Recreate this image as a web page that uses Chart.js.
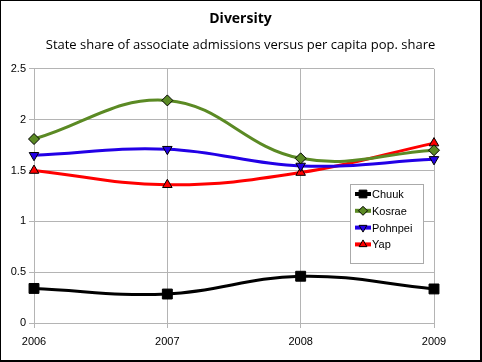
<!DOCTYPE html>
<html>
<head>
<meta charset="utf-8">
<script src="https://cdn.jsdelivr.net/npm/chart.js@4/dist/chart.umd.min.js"></script>
<style>
  body { margin: 0; background: #fff; }
  #wrap { width: 479px; height: 359px; border: 1px solid #000; border-right-width: 2px; border-bottom-width: 2px; }
</style>
</head>
<body>
<div id="wrap"><canvas id="chart" width="479" height="359"></canvas></div>
<script>
// 데이터
const years = ['2006', '2007', '2008', '2009'];
const chuuk = [0.34, 0.285, 0.46, 0.335];
const kosrae = [1.81, 2.19, 1.62, 1.70];
const pohnpei = [1.65, 1.71, 1.545, 1.61];
const yap = [1.50, 1.36, 1.48, 1.77];

// 차트 안쪽 범례 그리기
const boxLegend = {
    id: 'boxLegend',
    afterDraw(chart) {
        const ctx = chart.ctx;
        const x = 349, y = 183, w = 73, h = 79;
        ctx.save();
        ctx.fillStyle = '#fff';
        ctx.fillRect(x, y, w, h);
        ctx.strokeStyle = '#aaa';
        ctx.lineWidth = 1;
        ctx.strokeRect(x + 0.5, y + 0.5, w, h);
        chart.data.datasets.forEach(function(ds, i) {
            const cy = y + 10 + i * 16.8;
            ctx.strokeStyle = ds.borderColor;
            ctx.lineWidth = 4;
            ctx.beginPath();
            ctx.moveTo(x + 5, cy);
            ctx.lineTo(x + 21, cy);
            ctx.stroke();
            ctx.fillStyle = ds.pointBackgroundColor;
            ctx.strokeStyle = '#000';
            ctx.lineWidth = 1;
            Chart.helpers.drawPoint(ctx, {
                pointStyle: ds.pointStyle,
                rotation: ds.pointRotation || 0,
                radius: ds.pointStyle === 'rect' ? 5.5 : 4.5,
                borderWidth: 1
            }, x + 13, cy);
            ctx.fillStyle = '#000';
            ctx.font = '11px "Liberation Sans", Arial, sans-serif';
            ctx.textBaseline = 'middle';
            ctx.fillText(ds.label, x + 22, cy + 1);
        });
        ctx.restore();
    }
};

function series(label, data, color, style, rot) {
    return {
        label: label,
        data: data,
        borderColor: color,
        backgroundColor: color,
        pointBackgroundColor: color,
        pointBorderColor: '#000',
        pointBorderWidth: 1,
        pointStyle: style,
        pointRotation: rot || 0,
        pointRadius: style === 'rect' ? 7 : 5.5,
        borderWidth: 3,
        tension: 0.4,
        fill: false
    };
}

const tickFont = { family: '"Liberation Sans", Arial, sans-serif', size: 11 };

const ctx = document.getElementById('chart').getContext('2d');
new Chart(ctx, {
    type: 'line',
    data: {
        labels: years,
        datasets: [
            series('Chuuk', chuuk, '#000000', 'rect'),
            series('Kosrae', kosrae, '#5b8a24', 'rectRot'),
            series('Pohnpei', pohnpei, '#2200e6', 'triangle', 180),
            series('Yap', yap, '#ff0000', 'triangle')
        ]
    },
    options: {
        responsive: false,
        animation: false,
        plugins: {
            legend: { display: false },
            tooltip: { enabled: false },
            title: {
                display: true,
                text: 'Diversity',
                color: '#000',
                font: { family: '"Open Sans", "Noto Sans", sans-serif', size: 14, weight: 'bold' },
                padding: { top: 10, bottom: 0 }
            },
            subtitle: {
                display: true,
                text: 'State share of associate admissions versus per capita pop. share',
                color: '#000',
                font: { family: '"Open Sans", "Noto Sans", sans-serif', size: 13 },
                padding: { top: 10, bottom: 15.5 }
            }
        },
        scales: {
            x: {
                offset: false,
                grid: { color: '#b4b4b4', tickLength: 5 },
                border: { color: '#b4b4b4' },
                ticks: { color: '#000', font: tickFont, padding: 7, maxRotation: 0 },
                afterFit: function(scale) { scale.height = 37; }
            },
            y: {
                min: 0,
                max: 2.5,
                grid: { color: '#b4b4b4', tickLength: 5 },
                border: { color: '#b4b4b4' },
                ticks: {
                    stepSize: 0.5,
                    color: '#000',
                    font: tickFont,
                    padding: 3,
                    callback: function(v) { return String(v); }
                },
                afterFit: function(scale) { scale.width = 33; }
            },
            // 오른쪽 여백용 빈 축
            right: {
                position: 'right',
                grid: { display: false },
                border: { display: false },
                ticks: { display: false },
                afterFit: function(scale) { scale.width = 46; }
            }
        }
    },
    plugins: [boxLegend]
});
</script>
</body>
</html>
